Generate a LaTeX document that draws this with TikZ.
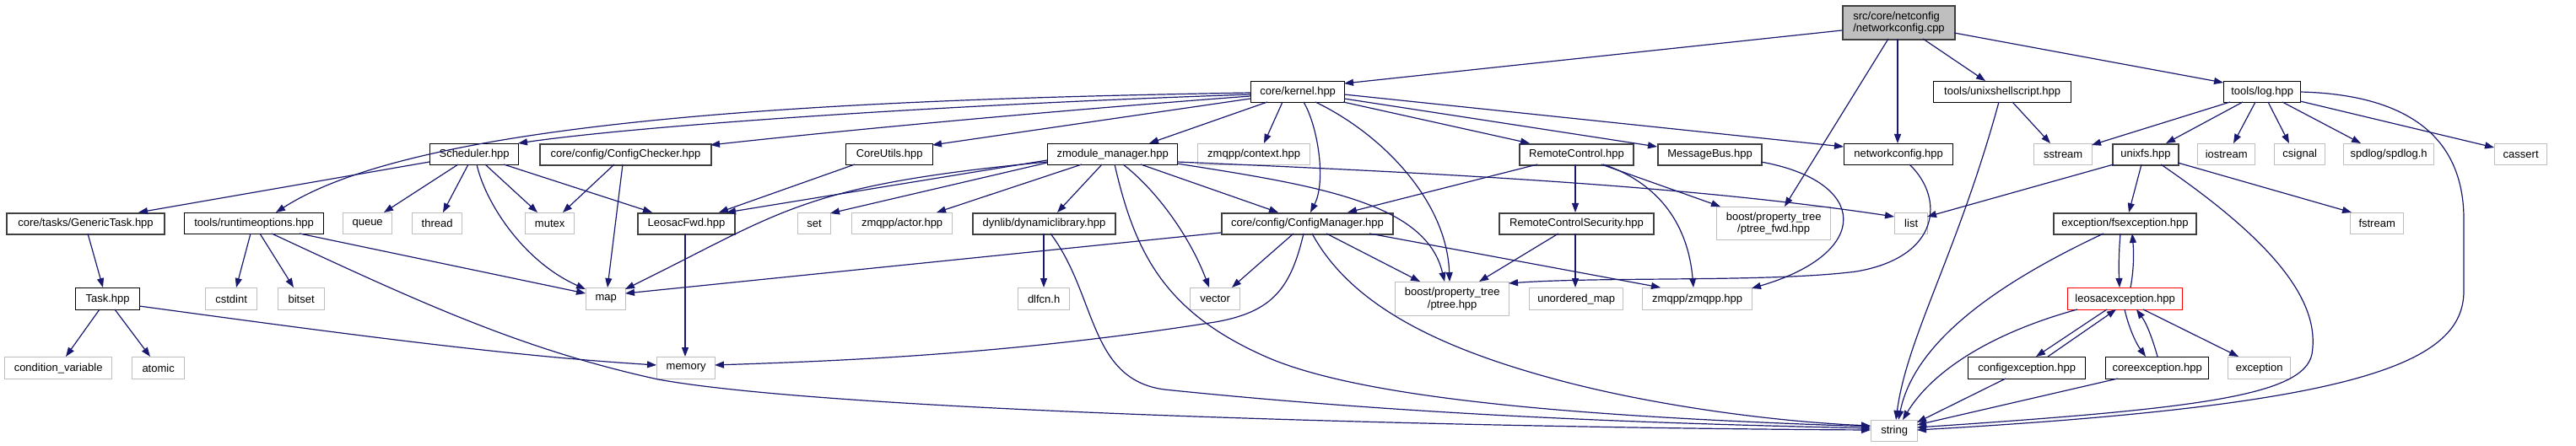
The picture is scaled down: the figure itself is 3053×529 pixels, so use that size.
\documentclass[tikz,border=0pt]{standalone}
\usepackage{fontspec}
\setmainfont{Liberation Sans}
\usetikzlibrary{arrows.meta,calc}
\definecolor{edgeblue}{HTML}{191970}
\definecolor{extgray}{HTML}{BFBFBF}
\definecolor{dkgray}{HTML}{404040}
\definecolor{rootgray}{HTML}{BFBFBF}
\tikzset{
  bx/.style={draw=black, line width=1.3pt, fill=white, anchor=north west, inner sep=0pt,
     font=\fontsize{13pt}{14.5pt}\selectfont},
  bxd/.style={bx, draw=dkgray, line width=2pt},
  ext/.style={bx, draw=extgray},
  trunc/.style={bx, draw=red},
  sz/.style 2 args={minimum width=#1pt, minimum height=#2pt},
  e/.style={draw=edgeblue, line width=1.2pt, -{Triangle[length=11pt,width=8pt]}},
}
\begin{document}
\begin{tikzpicture}[x=1pt,y=-1pt]
\fill[white] (0,0) rectangle (3053,529);
\useasboundingbox (0,0) rectangle (3053,529);
% row 0
\node[bxd,fill=rootgray,sz={133}{40},align=left] (root) at (2183,6) {src/core/netconfig\\/networkconfig.cpp};
% row 1
\node[bx,sz={111}{25}] (kernel) at (1482,96) {core/kernel.hpp};
\node[bx,sz={163}{25}] (ushell) at (2291,96) {tools/unixshellscript.hpp};
\node[bx,sz={91}{25}] (log) at (2635,96) {tools/log.hpp};
% row 2
\node[bx,sz={105}{25}] (sched) at (509,170) {Scheduler.hpp};
\node[bxd,sz={203}{25}] (cchk) at (639,170) {core/config/ConfigChecker.hpp};
\node[bx,sz={103}{25}] (cutil) at (1002,170) {CoreUtils.hpp};
\node[bx,sz={154}{25}] (zmod) at (1241,170) {zmodule\_manager.hpp};
\node[ext,sz={133}{25}] (zctx) at (1419,170) {zmqpp/context.hpp};
\node[bxd,sz={135}{25}] (rc) at (1800,170) {RemoteControl.hpp};
\node[bxd,sz={123}{25}] (mbus) at (1964,170) {MessageBus.hpp};
\node[bx,sz={129}{25}] (nch) at (2185,170) {networkconfig.hpp};
\node[ext,sz={69}{25}] (sstream) at (2410,170) {sstream};
\node[bxd,sz={78}{25}] (unixfs) at (2503,170) {unixfs.hpp};
\node[ext,sz={68}{25}] (iostream) at (2604,170) {iostream};
\node[ext,sz={60}{25}] (csignal) at (2695,170) {csignal};
\node[ext,sz={107}{25}] (spdlog) at (2777,170) {spdlog/spdlog.h};
\node[ext,sz={62}{25}] (cassert) at (2956,170) {cassert};
% row 3
\node[bxd,sz={187}{25}] (gtask) at (7,252) {core/tasks/GenericTask.hpp};
\node[bx,sz={165}{25}] (rtopt) at (218,252) {tools/runtimeoptions.hpp};
\node[ext,sz={58}{25}] (queue) at (406,252) {queue};
\node[ext,sz={59}{25}] (thread) at (488,252) {thread};
\node[ext,sz={58}{25}] (mutex) at (622,252) {mutex};
\node[bxd,sz={115}{25}] (lfwd) at (755,252) {LeosacFwd.hpp};
\node[ext,sz={39}{25}] (set) at (945,252) {set};
\node[ext,sz={119}{25}] (actor) at (1009,252) {zmqpp/actor.hpp};
\node[bxd,sz={169}{25}] (dynlib) at (1152,252) {dynlib/dynamiclibrary.hpp};
\node[bxd,sz={203}{25}] (cmgr) at (1447,252) {core/config/ConfigManager.hpp};
\node[bxd,sz={183}{25}] (rcs) at (1776,252) {RemoteControlSecurity.hpp};
\node[ext,sz={135}{39},align=center] (ptfwd) at (2034,245) {boost/property\_tree\\/ptree\_fwd.hpp};
\node[ext,sz={39}{25}] (list) at (2245,252) {list};
\node[bxd,sz={169}{25}] (fsexc) at (2433,252) {exception/fsexception.hpp};
\node[ext,sz={63}{25}] (fstream) at (2785,252) {fstream};
% row 4
\node[bx,sz={76}{26}] (task) at (89,341) {Task.hpp};
\node[ext,sz={61}{26}] (cstdint) at (243,341) {cstdint};
\node[ext,sz={55}{26}] (bitset) at (329,341) {bitset};
\node[ext,sz={47}{26}] (map) at (694,341) {map};
\node[ext,sz={61}{26}] (dlfcn) at (1206,341) {dlfcn.h};
\node[ext,sz={59}{26}] (vector) at (1410,341) {vector};
\node[ext,sz={135}{40},align=center] (ptree) at (1653,334) {boost/property\_tree\\/ptree.hpp};
\node[ext,sz={111}{26}] (umap) at (1812,341) {unordered\_map};
\node[ext,sz={130}{26}] (zmqpp) at (1946,341) {zmqpp/zmqpp.hpp};
\node[trunc,sz={136}{26}] (lexc) at (2450,341) {leosacexception.hpp};
% row 5
\node[ext,sz={127}{26}] (condvar) at (5,423) {condition\_variable};
\node[ext,sz={62}{26}] (atomic) at (156,423) {atomic};
\node[ext,sz={69}{26}] (memory) at (778,423) {memory};
\node[bx,sz={139}{26}] (cfgexc) at (2332,423) {configexception.hpp};
\node[bx,sz={122}{26}] (coreexc) at (2495,423) {coreexception.hpp};
\node[ext,sz={74}{26}] (exc) at (2640,423) {exception};
% row 6
\node[ext,sz={55}{25}] (string) at (2217,498) {string};

% edges from root
\draw[e] ($(root.north west)+(0,30)$) -- ($(kernel.north west)+(111,3)$);
\draw[e] ($(root.north west)+(55,40)$) -- ($(ptfwd.north west)+(81,0)$);
\draw[e] ($(root.north west)+(66,40)$) -- ($(nch.north west)+(64,0)$);
\draw[e] ($(root.north west)+(96,40)$) -- ($(ushell.north west)+(62,0)$);
\draw[e] ($(root.north west)+(133,33)$) -- ($(log.north west)+(0,2)$);
% kernel
\draw[e] ($(kernel.north west)+(0,14)$) .. controls (1000,118) and (500,140) .. ($(rtopt.north west)+(109,0)$);
\draw[e] ($(kernel.north west)+(0,16)$) .. controls (1100,125) and (750,150) .. ($(sched.north west)+(105,0)$);
\draw[e] ($(kernel.north west)+(0,18)$) .. controls (1200,135) and (950,160) .. ($(cchk.north west)+(203,2)$);
\draw[e] ($(kernel.north west)+(0,21)$) -- ($(cutil.north west)+(103,2)$);
\draw[e] ($(kernel.north west)+(20,25)$) -- ($(zmod.north west)+(121,0)$);
\draw[e] ($(kernel.north west)+(38,25)$) -- ($(zctx.north west)+(79,0)$);
\draw[e] ($(kernel.north west)+(63,25)$) .. controls (1562,150) and (1572,215) .. ($(cmgr.north west)+(106,0)$);
\draw[e] ($(kernel.north west)+(77,25)$) .. controls (1640,160) and (1715,240) .. ($(ptree.north west)+(65,0)$);
\draw[e] ($(kernel.north west)+(110,25)$) -- ($(rc.north west)+(13,0)$);
\draw[e] ($(kernel.north west)+(111,21)$) -- ($(mbus.north west)+(0,4)$);
\draw[e] ($(kernel.north west)+(111,16)$) -- ($(nch.north west)+(0,4)$);
% Scheduler
\draw[e] ($(sched.north west)+(0,22)$) -- ($(gtask.north west)+(157,0)$);
\draw[e] ($(sched.north west)+(34,25)$) -- ($(queue.north west)+(49,0)$);
\draw[e] ($(sched.north west)+(46,25)$) -- ($(thread.north west)+(37,0)$);
\draw[e] ($(sched.north west)+(56,25)$) .. controls (575,240) and (620,310) .. ($(map.north west)+(0,2)$);
\draw[e] ($(sched.north west)+(66,25)$) -- ($(mutex.north west)+(15,0)$);
\draw[e] ($(sched.north west)+(88,25)$) -- ($(lfwd.north west)+(18,0)$);
% ConfigChecker
\draw[e] ($(cchk.north west)+(89,25)$) -- ($(mutex.north west)+(45,0)$);
\draw[e] ($(cchk.north west)+(99,25)$) -- ($(map.north west)+(26,0)$);
% CoreUtils
\draw[e] ($(cutil.north west)+(11,25)$) -- ($(lfwd.north west)+(97,0)$);
% zmodule_manager
\draw[e] ($(zmod.north west)+(0,20)$) -- ($(lfwd.north west)+(106,0)$);
\draw[e] ($(zmod.north west)+(0,22)$) .. controls (950,220) and (930,250) .. ($(map.north west)+(47,2)$);
\draw[e] ($(zmod.north west)+(0,23)$) -- ($(set.north west)+(39,1)$);
\draw[e] ($(zmod.north west)+(41,25)$) -- ($(actor.north west)+(101,0)$);
\draw[e] ($(zmod.north west)+(65,25)$) -- ($(dynlib.north west)+(101,0)$);
\draw[e] ($(zmod.north west)+(80,25)$) .. controls (1345,300) and (1380,370) .. (1500,423) .. controls (1620,476) and (1900,495) .. ($(string.north west)+(0,8)$);
\draw[e] ($(zmod.north west)+(90,25)$) .. controls (1370,225) and (1410,280) .. ($(vector.north west)+(23,0)$);
\draw[e] ($(zmod.north west)+(111,25)$) -- ($(cmgr.north west)+(68,0)$);
\draw[e] ($(zmod.north west)+(154,24)$) .. controls (1560,220) and (1690,240) .. ($(ptree.north west)+(59,0)$);
\draw[e] ($(zmod.north west)+(154,22)$) .. controls (1700,205) and (2000,220) .. ($(list.north west)+(0,5)$);
% dynamiclibrary
\draw[e] ($(dynlib.north west)+(85,25)$) -- ($(dlfcn.north west)+(31,0)$);
\draw[e] ($(dynlib.north west)+(93,25)$) .. controls (1300,350) and (1290,450) .. (1380,462) .. controls (1700,495) and (2000,503) .. ($(string.north west)+(0,10)$);
% ConfigManager
\draw[e] ($(cmgr.north west)+(0,24)$) -- ($(map.north west)+(47,7)$);
\draw[e] ($(cmgr.north west)+(86,25)$) -- ($(vector.north west)+(50,0)$);
\draw[e] ($(cmgr.north west)+(98,25)$) .. controls (1530,340) and (1510,370) .. (1440,382) .. controls (1200,420) and (1000,428) .. ($(memory.north west)+(69,10)$);
\draw[e] ($(cmgr.north west)+(108,25)$) .. controls (1600,360) and (1700,410) .. (1833,447) .. controls (1950,480) and (2100,500) .. ($(string.north west)+(0,7)$);
\draw[e] ($(cmgr.north west)+(125,25)$) -- ($(ptree.north west)+(30,0)$);
\draw[e] ($(cmgr.north west)+(176,25)$) -- ($(zmqpp.north west)+(22,0)$);
% RemoteControl
\draw[e] ($(rc.north west)+(22,25)$) -- ($(cmgr.north west)+(150,0)$);
\draw[e] ($(rc.north west)+(67,25)$) -- ($(rcs.north west)+(91,0)$);
\draw[e] ($(rc.north west)+(98,25)$) -- ($(ptfwd.north west)+(5,0)$);
\draw[e] ($(rc.north west)+(100,25)$) .. controls (1960,215) and (2000,260) .. ($(zmqpp.north west)+(61,0)$);
% RemoteControlSecurity
\draw[e] ($(rcs.north west)+(71,25)$) -- ($(ptree.north west)+(100,0)$);
\draw[e] ($(rcs.north west)+(91,25)$) -- ($(umap.north west)+(55,0)$);
% MessageBus
\draw[e] ($(mbus.north west)+(123,22)$) .. controls (2215,215) and (2220,300) .. ($(zmqpp.north west)+(130,1)$);
% networkconfig.hpp
\draw[e] ($(nch.north west)+(78,25)$) .. controls (2305,235) and (2300,305) .. (2200,322) .. controls (2100,335) and (1900,328) .. ($(ptree.north west)+(135,2)$);
% unixshellscript
\draw[e] ($(ushell.north west)+(94,25)$) -- ($(sstream.north west)+(20,0)$);
\draw[e] ($(ushell.north west)+(78,25)$) .. controls (2320,300) and (2260,400) .. ($(string.north west)+(30,0)$);
% log
\draw[e] ($(log.north west)+(8,25)$) -- ($(sstream.north west)+(69,2)$);
\draw[e] ($(log.north west)+(23,25)$) -- ($(unixfs.north west)+(64,0)$);
\draw[e] ($(log.north west)+(38,25)$) -- ($(iostream.north west)+(43,0)$);
\draw[e] ($(log.north west)+(53,25)$) -- ($(csignal.north west)+(18,0)$);
\draw[e] ($(log.north west)+(70,25)$) -- ($(spdlog.north west)+(21,0)$);
\draw[e] ($(log.north west)+(91,24)$) -- ($(cassert.north west)+(0,5)$);
\draw[e] ($(log.north west)+(91,13)$) .. controls (2850,112) and (2920,160) .. (2920,260) -- (2920,345) .. controls (2920,430) and (2800,480) .. ($(string.north west)+(55,12)$);
% unixfs
\draw[e] ($(unixfs.north west)+(2,25)$) -- ($(list.north west)+(39,5)$);
\draw[e] ($(unixfs.north west)+(35,25)$) -- ($(fsexc.north west)+(90,0)$);
\draw[e] ($(unixfs.north west)+(78,23)$) -- ($(fstream.north west)+(2,0)$);
\draw[e] ($(unixfs.north west)+(58,25)$) .. controls (2700,290) and (2750,360) .. (2740,420) .. controls (2730,470) and (2600,485) .. ($(string.north west)+(55,9)$);
% fsexception / leosacexception
\draw[e] ($(fsexc.north west)+(80,25)$) .. controls (2511,300) and (2511,320) .. ($(lexc.north west)+(62,0)$);
\draw[e] ($(lexc.north west)+(75,0)$) .. controls (2529,320) and (2529,300) .. ($(fsexc.north west)+(94,25)$);
\draw[e] ($(fsexc.north west)+(60,25)$) .. controls (2380,330) and (2270,400) .. ($(string.north west)+(33,0)$);
\draw[e] ($(lexc.north west)+(12,26)$) .. controls (2360,395) and (2290,440) .. ($(string.north west)+(38,0)$);
\draw[e] ($(lexc.north west)+(47,26)$) -- ($(cfgexc.north west)+(81,0)$);
\draw[e] ($(cfgexc.north west)+(95,0)$) -- ($(lexc.north west)+(58,26)$);
\draw[e] ($(lexc.north west)+(68,26)$) .. controls (2522,385) and (2530,405) .. ($(coreexc.north west)+(48,0)$);
\draw[e] ($(coreexc.north west)+(62,0)$) .. controls (2552,405) and (2545,385) .. ($(lexc.north west)+(82,26)$);
\draw[e] ($(lexc.north west)+(90,26)$) -- ($(exc.north west)+(13,0)$);
\draw[e] ($(cfgexc.north west)+(45,26)$) -- ($(string.north west)+(55,3)$);
\draw[e] ($(coreexc.north west)+(15,26)$) -- ($(string.north west)+(55,6)$);
% tasks
\draw[e] ($(gtask.north west)+(97,25)$) -- ($(task.north west)+(33,0)$);
\draw[e] ($(task.north west)+(29,26)$) -- ($(condvar.north west)+(73,0)$);
\draw[e] ($(task.north west)+(47,26)$) -- ($(atomic.north west)+(22,0)$);
\draw[e] ($(task.north west)+(76,22)$) .. controls (400,395) and (600,422) .. ($(memory.north west)+(0,10)$);
% runtimeoptions
\draw[e] ($(rtopt.north west)+(79,25)$) -- ($(cstdint.north west)+(37,0)$);
\draw[e] ($(rtopt.north west)+(90,25)$) -- ($(bitset.north west)+(19,0)$);
\draw[e] ($(rtopt.north west)+(104,25)$) .. controls (500,360) and (620,415) .. (780,450) .. controls (1000,490) and (1800,508) .. ($(string.north west)+(0,12)$);
\draw[e] ($(rtopt.north west)+(137,25)$) -- ($(map.north west)+(0,7)$);
% LeosacFwd
\draw[e] ($(lfwd.north west)+(57,25)$) -- ($(memory.north west)+(34,0)$);
\end{tikzpicture}
\end{document}
